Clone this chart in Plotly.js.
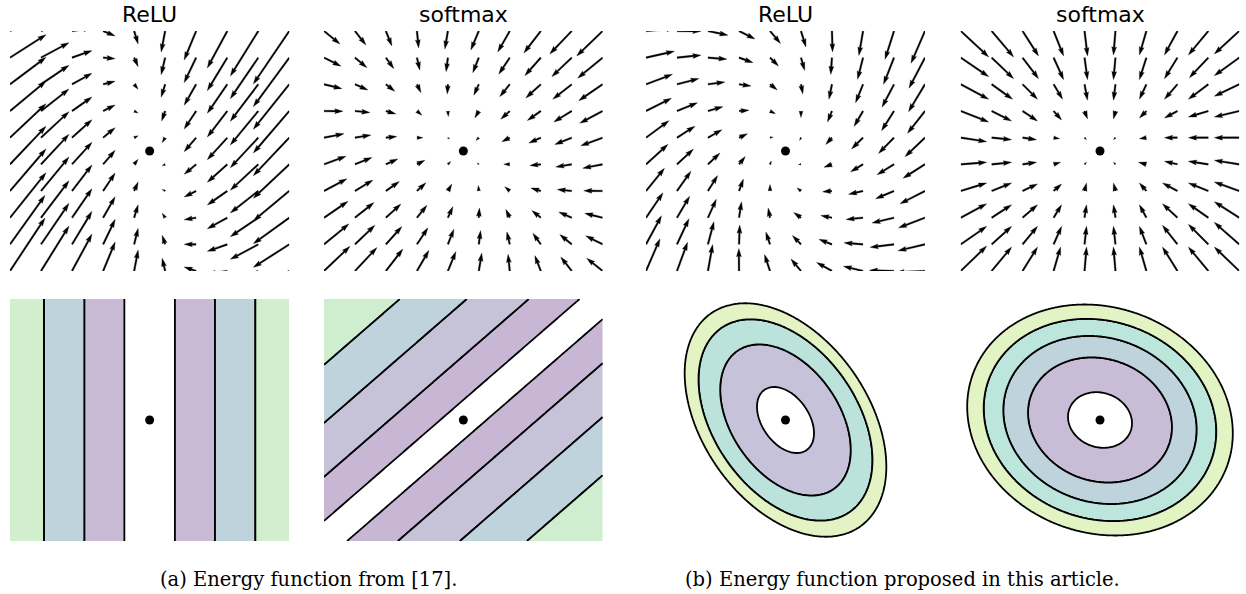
<!DOCTYPE html>
<html>
<head>
<meta charset="utf-8">
<script src="https://cdn.plot.ly/plotly-3.0.1.min.js"></script>
<style>html,body{margin:0;padding:0;background:#fff;}</style>
</head>
<body>
<div id="chart" style="width:1246px;height:594px;"></div>
<script>
// ---------------- DATA ----------------
// quiver grid (10 x 10 points on [-1,1]^2), rows listed top to bottom
const gridX = [-1, -0.778, -0.556, -0.333, -0.111, 0.111, 0.333, 0.556, 0.778, 1];
const gridY = [1, 0.778, 0.556, 0.333, 0.111, -0.111, -0.333, -0.556, -0.778, -1];

// (a) ReLU field, U = rightward, V = upward components
const reluA_U = [
 [36,28,20,12,4,-4,-12,-20,-28,-36],
 [36,28,20,12,4,-4,-12,-20,-28,-36],
 [36,28,20,12,4,-4,-12,-20,-28,-36],
 [36,28,20,12,4,-3.5,-12,-20,-28,-36],
 [36,28,20,12,4,-3,-12,-20,-28,-36],
 [36,28,20,12,4,-3,-12,-20,-28,-36],
 [36,28,20,12,4,-3,-12,-20,-28,-36],
 [36,28,20,12,4,-3,-12,-20,-28,-36],
 [35,28,20,12,4,-3,-12,-20,-28,-36],
 [35,28,20,12,4,-3,-12,-20,-28,-36]];
const reluA_V = [
 [19,11,3,-5,-13,-21,-29,-37,-45,-53],
 [23,15,7,-1,-9,-17,-25,-33,-41,-49],
 [27,19,11,3,-5,-13,-21,-29,-37,-45],
 [30,22,14,6,-2,-10,-18,-26,-34,-42],
 [34,26,18,10,2,-5,-14,-22,-30,-38],
 [38,30,22,14,5,-1.5,-10,-18,-26,-34],
 [42,34,26,18,9,1.5,-6,-14,-22,-30],
 [45,37,29,21,13,4.5,-2,-11,-19,-26],
 [49,41,33,25,16,9,0,-7,-15,-23],
 [53,45,37,29,21,12.7,4,-3,-11,-19]];

// (a) softmax field
const softA_U = [
 [16,11,6,1.7,-3,-8,-12,-17,-22,-26],
 [17,12,8,2.9,-1.8,-6,-11,-16,-20,-25],
 [18,13,9,4,-0.6,-5,-10,-15,-19,-24],
 [19,15,10,5,0.5,-4,-9,-13.5,-18,-23],
 [20,16,11,6,1.7,-2.9,-8,-12,-17,-22],
 [22,17,12,8,2.9,-1.7,-6,-11,-16,-20],
 [23,18,13.5,9,4,-0.5,-5,-10,-14.5,-19],
 [24,19,15,10,5,0.6,-4,-9,-13,-18],
 [25,20,16,11,6,1.8,-2.9,-8,-12,-17],
 [26,22,17,12,8,3,-1.7,-6,-11,-16]];
const softA_V = [
 [-13,-14,-15,-17,-18,-19,-21,-22,-23,-25],
 [-8.5,-10,-11,-12.5,-14,-15,-16.5,-18,-19,-20.5],
 [-4.4,-5.7,-7,-8.4,-9.7,-11,-12.4,-13.7,-15,-16.4],
 [-0.2,-1.5,-2.9,-4.2,-5.5,-6.9,-8.2,-9.5,-10.9,-12.2],
 [3.9,2.6,1.2,-0.1,-1.4,-2.8,-4.1,-5.4,-6.8,-8.1],
 [8.1,6.8,5.4,4.1,2.8,1.4,0.1,-1.2,-2.6,-3.9],
 [12.2,10.9,9.5,8.2,6.9,5.5,4.2,2.9,1.5,0.2],
 [16.4,15.1,13.7,12.4,11.1,9.7,8.4,7.1,5.7,4.4],
 [20.5,19.2,17.8,16.5,15.2,13.8,12.5,11.2,9.8,8.5],
 [24.7,23.4,22,20.7,19.4,18,16.7,15.4,14,12.7]];

// (b) ReLU field
const reluB_U = [
 [29,24,20,16,10.5,5,0.6,-4.2,-9,-14],
 [28.5,24,19,14,8.5,3.7,-1.2,-5.5,-10.5,-16],
 [26.5,22,17,12,7.3,1.9,-3,-7.5,-12,-16.5],
 [25.5,20.5,15,10,5.5,0,-4.4,-9,-12.5,-17.5],
 [23,18,14,8.5,3.1,-1.3,-6.2,-11.5,-15.5,-20],
 [22,16.5,12,6.2,1.3,-2.6,-8,-12.5,-17,-22],
 [18.5,14,9.7,4.4,0,-4,-9.4,-14.5,-18.5,-25],
 [17,12.7,8.4,2.5,-1.9,-7.3,-11.2,-17,-22,-26.5],
 [15.5,12,6,0.7,-4.2,-8.6,-13,-19,-24,-27],
 [14,10.6,4.7,-0.2,-5.5,-10,-15.4,-19.7,-24.6,-29]];
const reluB_V = [
 [2.5,-0.2,-4.2,-8,-12.5,-16,-21,-24.4,-28.3,-32.3],
 [6.4,2.5,-1.5,-5,-8.4,-12.8,-16.8,-21.7,-26.7,-30.6],
 [10,5.7,2.2,-1.8,-5.7,-9.6,-15,-18.5,-23,-27.4],
 [12.8,8.3,4.4,0.9,-2.6,-6.5,-10.9,-15.4,-19.8,-22.3],
 [17,11.5,8,4,0.6,-2.8,-6.8,-11.2,-15.7,-19.1],
 [20,15.2,11.2,7.8,3.3,-0.1,-3,-7.5,-10.5,-13.9],
 [22.8,19.8,15.4,11.9,6.5,3,-0.9,-3.4,-7.8,-12.8],
 [25,21.5,18.5,16,9.6,5.2,2.2,-1.7,-5.2,-10.1],
 [28.6,25.7,22.7,19.3,12.3,8.9,5,1.5,-3,-6.4],
 [32.3,28.8,26.4,22.4,16.5,12,8.6,4.7,0.7,-1.3]];

// (b) softmax field
const softB_U = [
 [28,22,16,10,3,-2,-7,-13,-20,-25],
 [28,22,16,10,3,-2,-7,-13,-19,-25],
 [28,21,15,9,3,-2,-7,-13,-20,-25],
 [28,20,15,8,3,-2,-7,-13,-20,-25],
 [26,20,14,6,2,-2,-7,-13,-20,-25],
 [26,20,14,7,2,-2,-8,-13,-20,-25],
 [26,20,15,8,2,-2,-7,-15,-20,-25],
 [26,20,15,8,2,-2,-7,-15,-20,-25],
 [26,20,15,8,2,-2,-7,-15,-20,-25],
 [26,20,15,7,2,-2,-7,-15,-20,-25]];
const softB_V = [
 [-26,-26,-25,-25,-25,-24,-24,-24,-24,-23],
 [-19,-21,-21,-22,-22,-22,-22,-21,-20,-18],
 [-15,-15,-15,-15,-16,-16,-15,-15,-15,-12],
 [-11,-10,-10,-9,-8,-8,-7,-7,-6,-6],
 [-4,-2,-2,-1,-2,-2,-1,0,0,0],
 [2,2,2,2,2,2,2,3,3,4],
 [8,8,7,7,8,8,8,8,8,9],
 [14,13,13,13,13,13,13,14,14,16],
 [18,18,18,18,18,18,18,19,20,22],
 [25,24,24,24,24,24,24,24,24,24]];

// energy contour levels and band colours
const reluA_levels = [0.181, 0.468, 0.757];
const reluA_colors = ['#c9bbd6', '#bfd3dd', '#d1efcd'];
const softA_levels = [0.166, 0.531, 0.976, 1.457];
const softA_colors = ['#c8b7d4', '#c6c3d9', '#bfd3dd', '#cfedcf'];
const reluB_quad = [1.782, 0.534, 1.0];     // a, b, c of a*x^2 + 2*b*x*y + c*y^2
const reluB_levels = [0.0625, 0.328, 0.582, 0.782];
const reluB_colors = ['#c6c2da', '#bbe3dc', '#e3f3c4'];
const softB_quad = [1.0026, 0.1154, 1.0];
const softB_levels = [0.0522, 0.2643, 0.4767, 0.6896, 0.899];
const softB_colors = ['#c9bcd6', '#bfd3dd', '#bce5dc', '#e3f4c4'];

const panelTitles = ['ReLU', 'softmax', 'ReLU', 'softmax'];
const captions = ['(a) Energy function from [17].', '(b) Energy function proposed in this article.'];

// ---------------- LAYOUT GEOMETRY ----------------
const W = 1246, H = 594;
const colDom = [[10/W, 289.3/W], [324/W, 602.7/W], [646/W, 925/W], [960.7/W, 1239.3/W]];
const topDom = [1 - 271/H, 1 - 31/H];
const botDom = [1 - 541/H, 1 - 299/H];

const traces = [];

function quiver(U, V, ax, dom, vdom) {
  const sx = (dom[1] - dom[0]) * W / 2, sy = (vdom[1] - vdom[0]) * H / 2;
  const w = 1.65, hl = 5 * w, hal = 4.5 * w, hw = 1.5 * w;
  const xs = [], ys = [];
  for (let r = 0; r < gridY.length; r++) {
    for (let c = 0; c < gridX.length; c++) {
      const u = U[r][c], v = V[r][c];
      const L = Math.hypot(u, v);
      if (L < 0.6) continue;
      const ex = u / L, ey = v / L, nx = -ey, ny = ex;
      let pts;
      if (L >= hl) {
        pts = [[0, w/2], [L-hal, w/2], [L-hl, hw], [L, 0], [L-hl, -hw], [L-hal, -w/2], [0, -w/2]];
      } else {
        const s = L / hl;
        pts = [[0, s*w/2], [s*(hl-hal), s*w/2], [0, s*hw], [L, 0], [0, -s*hw], [s*(hl-hal), -s*w/2], [0, -s*w/2]];
      }
      pts.forEach(p => {
        xs.push(gridX[c] + (p[0]*ex + p[1]*nx) / sx);
        ys.push(gridY[r] + (p[0]*ey + p[1]*ny) / sy);
      });
      xs.push(null); ys.push(null);
    }
  }
  traces.push({type: 'scatter', mode: 'lines', x: xs, y: ys, xaxis: 'x' + ax, yaxis: 'y' + ax,
    fill: 'toself', fillcolor: '#000', line: {color: '#000', width: 0.3},
    hoverinfo: 'skip', showlegend: false});
}

// filled energy bands: constraint contours shade the region outside the kept
// range, so '][' shades exactly the band [lo, hi]
function bands(energy, levels, colors, ax) {
  const n = 241, g = [];
  for (let i = 0; i < n; i++) g.push(-1 + 2 * i / (n - 1));
  const z = g.map(yv => g.map(xv => energy(xv, yv)));
  colors.forEach((col, k) => {
    const hi = (k + 1 < levels.length) ? levels[k + 1] : 1000;
    traces.push({type: 'contour', x: g, y: g, z: z, xaxis: 'x' + ax, yaxis: 'y' + ax,
      contours: {type: 'constraint', operation: '][', value: [levels[k], hi], showlines: true},
      fillcolor: col, line: {color: '#000', width: 1.8, smoothing: 1},
      showscale: false, hoverinfo: 'skip', showlegend: false});
  });
}

function dot(ax) {
  traces.push({type: 'scatter', mode: 'markers', x: [0], y: [0], xaxis: 'x' + ax, yaxis: 'y' + ax,
    marker: {color: '#000', size: 9}, hoverinfo: 'skip', showlegend: false});
}

// top row: dynamics
quiver(reluA_U, reluA_V, 1, colDom[0], topDom); dot(1);
quiver(softA_U, softA_V, 2, colDom[1], topDom); dot(2);
quiver(reluB_U, reluB_V, 3, colDom[2], topDom); dot(3);
quiver(softB_U, softB_V, 4, colDom[3], topDom); dot(4);

// bottom row: energies
const quadE = q => (x, y) => q[0]*x*x + 2*q[1]*x*y + q[2]*y*y;
bands((x, y) => Math.abs(x), reluA_levels, reluA_colors, 5); dot(5);
bands((x, y) => Math.abs(x - y), softA_levels, softA_colors, 6); dot(6);
bands(quadE(reluB_quad), reluB_levels, reluB_colors, 7); dot(7);
bands(quadE(softB_quad), softB_levels, softB_colors, 8); dot(8);

const layout = {
  width: W, height: H, margin: {l: 0, r: 0, t: 0, b: 0},
  paper_bgcolor: '#fff', plot_bgcolor: '#fff', showlegend: false,
  annotations: []
};
for (let i = 1; i <= 8; i++) {
  const dom = colDom[(i - 1) % 4];
  const vdom = i <= 4 ? topDom : botDom;
  layout['xaxis' + (i === 1 ? '' : i)] = {domain: dom, range: [-1, 1], visible: false, fixedrange: true, anchor: 'y' + (i === 1 ? '' : i)};
  layout['yaxis' + (i === 1 ? '' : i)] = {domain: vdom, range: [-1, 1], visible: false, fixedrange: true, anchor: 'x' + (i === 1 ? '' : i)};
}
panelTitles.forEach((t, i) => {
  layout.annotations.push({text: t, xref: 'paper', yref: 'paper',
    x: (colDom[i][0] + colDom[i][1]) / 2, y: 1 - 14.5 / H, xanchor: 'center', yanchor: 'middle',
    showarrow: false, font: {family: 'DejaVu Sans', size: 22, color: '#000'}});
});
const capX = [308.5 / W, 902.5 / W];
captions.forEach((t, i) => {
  layout.annotations.push({text: t, xref: 'paper', yref: 'paper',
    x: capX[i], y: 1 - 579 / H, xanchor: 'center', yanchor: 'middle',
    showarrow: false, font: {family: 'DejaVu Serif', size: 19.5, color: '#000'}});
});

Plotly.newPlot('chart', traces, layout, {displayModeBar: false, staticPlot: true});
</script>
</body>
</html>
